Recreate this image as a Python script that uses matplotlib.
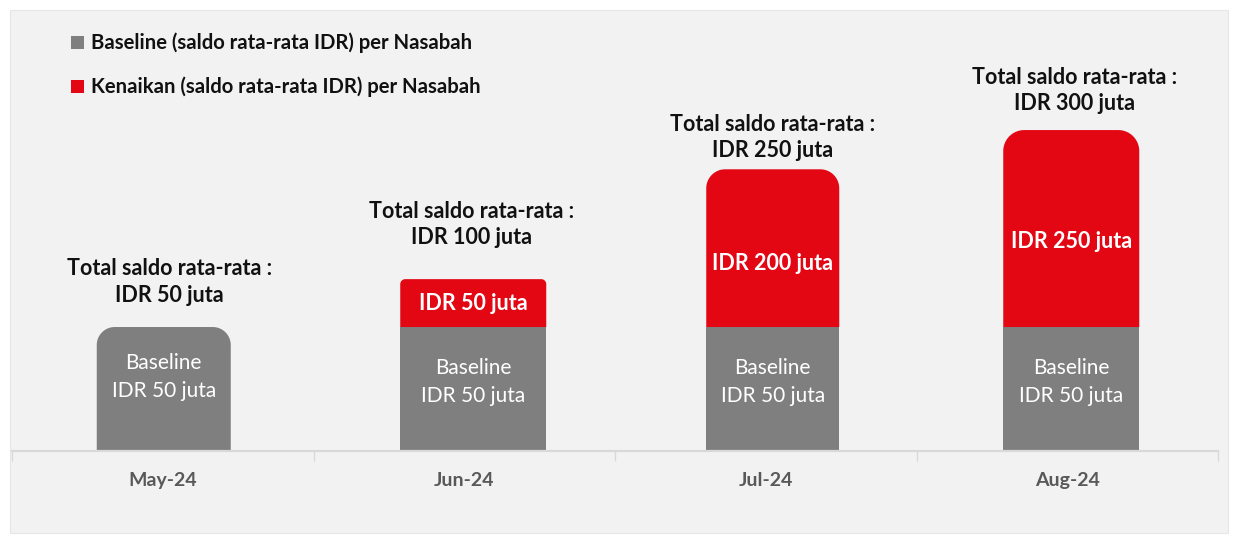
import matplotlib
matplotlib.use("Agg")
import matplotlib.pyplot as plt
from matplotlib.patches import Rectangle, PathPatch
from matplotlib.path import Path
import numpy as np

# ---- data ----
months = ["May-24", "Jun-24", "Jul-24", "Aug-24"]
baseline_juta = [50, 50, 50, 50]
increase_juta = [0, 50, 200, 250]
total_juta = [50, 100, 250, 300]
# bar heights as drawn in the picture (chart units)
baseline_drawn = [158, 158, 158, 158]
increase_drawn = [0, 61, 201, 251]

legend_labels = ["Baseline (saldo rata-rata IDR) per Nasabah",
                 "Kenaikan (saldo rata-rata IDR) per Nasabah"]

# ---- layout / style (pixels) ----
bar_offset_px = [1, 9, 7, 4]          # bar centre shift from category centre
bar_width_px = [134, 146, 133, 136]
top_radius_px = [18, 5, 19, 21]
annot_gap_px = [31, 41, 18, 26]       # bar top -> centre of second annotation line
red_label_shift_px = [0, 0, -15, -13]
base_label_frac = [0.60, 0.56, 0.56, 0.56]

GRAY = "#7f7f7f"
RED = "#e30613"
FONT = ["Lato", "DejaVu Sans"]

W, H = 1237, 539
fig = plt.figure(figsize=(W / 100, H / 100), dpi=100, facecolor="white")
fig.patches.append(Rectangle((10 / W, 6 / H), (1228 - 10) / W, (533 - 10) / H,
                             transform=fig.transFigure, facecolor="#f2f2f2",
                             edgecolor="#e6e6e6", lw=0.8, zorder=-5))

ax_left, ax_right = 12, 1218
ax_top, ax_bottom = 10, 451
ax = fig.add_axes([ax_left / W, (H - ax_bottom) / H, (ax_right - ax_left) / W,
                   (ax_bottom - ax_top) / H])
ax.set_facecolor("none")
ymax = 562
ax.set_xlim(-0.5, 3.5)
ax.set_ylim(0, ymax)

px_per_x = (ax_right - ax_left) / 4.0
px_per_y = (ax_bottom - ax_top) / ymax


def rounded_top_bar(xc, w, bottom, height, radius_px, color):
    x0, x1 = xc - w / 2, xc + w / 2
    top = bottom + height
    rx = radius_px / px_per_x
    ry = min(radius_px / px_per_y, height)
    verts = [(x0, bottom), (x1, bottom), (x1, top - ry)]
    t = np.linspace(0, np.pi / 2, 24)
    for a in t:
        verts.append((x1 - rx + rx * np.cos(a), top - ry + ry * np.sin(a)))
    for a in t:
        verts.append((x0 + rx + rx * np.cos(np.pi / 2 + a), top - ry + ry * np.sin(np.pi / 2 + a)))
    verts.append((x0, bottom))
    codes = [Path.MOVETO] + [Path.LINETO] * (len(verts) - 2) + [Path.CLOSEPOLY]
    ax.add_patch(PathPatch(Path(verts, codes), facecolor=color, edgecolor="none", zorder=2))


xs = np.arange(len(months))
for i, x in enumerate(xs):
    xc = x + bar_offset_px[i] / px_per_x
    w = bar_width_px[i] / px_per_x
    if increase_drawn[i] > 0:
        ax.bar(xc, baseline_drawn[i], width=w, color=GRAY, zorder=2)
        rounded_top_bar(xc, w, baseline_drawn[i], increase_drawn[i], top_radius_px[i], RED)
        ax.text(xc, baseline_drawn[i] + increase_drawn[i] / 2 + red_label_shift_px[i] / px_per_y,
                f"IDR {increase_juta[i]} juta",
                ha="center", va="center", color="white", fontsize=15.5, fontweight="bold",
                family=FONT, zorder=3)
    else:
        rounded_top_bar(xc, w, 0, baseline_drawn[i], top_radius_px[i], GRAY)
    ax.text(xc, baseline_drawn[i] * base_label_frac[i], f"Baseline\nIDR {baseline_juta[i]} juta",
            ha="center", va="center", color="white", fontsize=15, family=FONT,
            linespacing=1.5, zorder=3)
    top = baseline_drawn[i] + increase_drawn[i]
    ax.text(x + 7 / px_per_x, top + (annot_gap_px[i] + 14) / px_per_y,
            f"Total saldo rata-rata :\nIDR {total_juta[i]} juta",
            ha="center", va="center", color="#111111", fontsize=15.5, fontweight="bold",
            family=FONT, linespacing=1.3, zorder=3)

for s in ["top", "right", "left"]:
    ax.spines[s].set_visible(False)
ax.spines["bottom"].set_color("#d9d9d9")
ax.spines["bottom"].set_linewidth(1.6)
ax.set_yticks([])
ax.set_xticks(xs)
ax.set_xticklabels(months, fontsize=14, fontweight="bold", color="#595959", family=FONT)
ax.tick_params(axis="x", which="major", length=0, pad=15)
ax.set_xticks([-0.5, 0.5, 1.5, 2.5, 3.5], minor=True)
ax.tick_params(axis="x", which="minor", length=7, color="#d9d9d9", width=1)

# legend
for j, (lab, col) in enumerate(zip(legend_labels, [GRAY, RED])):
    yc = 42.5 + j * 44
    fig.patches.append(Rectangle((71 / W, (H - yc - 6.5) / H), 13 / W, 13 / H,
                                 transform=fig.transFigure, facecolor=col, edgecolor="none"))
    fig.text(91 / W, (H - yc) / H, lab, ha="left", va="center", fontsize=14.6,
             fontweight="bold", color="#111111", family=FONT)

fig.savefig("out.png", dpi=100, facecolor="white")
